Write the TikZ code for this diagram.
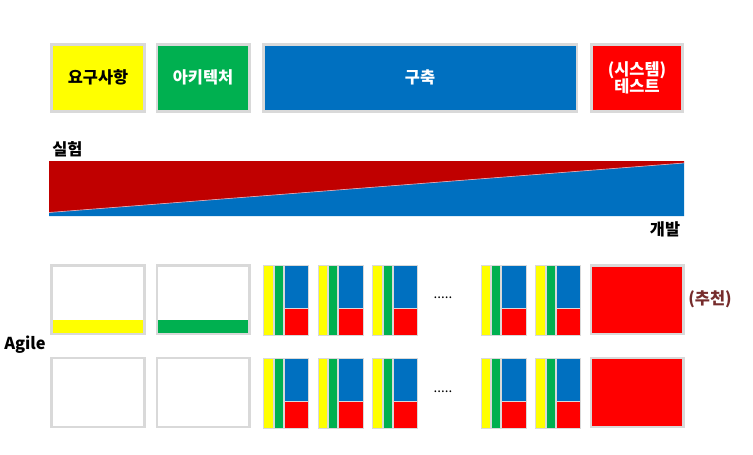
\documentclass[tikz,border=0pt]{standalone}
\usepackage{fontspec}
\setmainfont{Noto Sans CJK KR}
\definecolor{cy}{RGB}{255,255,0}
\definecolor{cg}{RGB}{0,176,80}
\definecolor{cb}{RGB}{0,112,192}
\definecolor{cr}{RGB}{255,0,0}
\definecolor{cdr}{RGB}{192,0,0}
\definecolor{cgr}{RGB}{217,217,217}
\definecolor{crec}{RGB}{118,44,44}
\tikzset{
  bigbox/.style={draw=cgr, line width=2.2pt},
  sb/.style={draw=cgr, line width=0.7pt},
  lbl/.style={font=\bfseries\fontsize{12.3}{13}\selectfont, inner sep=0pt},
}
\newcommand\myblk[3]{%
  \begin{scope}[shift={(#1,#2)}]
    \filldraw[sb,fill=cy] (0,0) rectangle (9.5,70);
    \filldraw[sb,fill=cg] (10.5,0) rectangle (19.5,70);
    \filldraw[sb,fill=cb] (20.5,0) rectangle (45,43.5);
    \filldraw[sb,fill=cr] (20.5,43.5) rectangle (45,70);
    \coordinate (#3) at (22.5,35);
  \end{scope}}
\begin{document}
\begin{tikzpicture}[x=0.75pt,y=-0.75pt]
\useasboundingbox[fill=white] (0,0) rectangle (753,454);
% top row
\filldraw[bigbox,fill=cy] (51.5,44.5) rectangle (144.5,111.5);
\node[lbl] (req) at (98,77) {요구사항};
\filldraw[bigbox,fill=cg] (157,44.5) rectangle (249.5,111.5);
\node[lbl,text=white] (arch) at (203,77) {아키텍처};
\filldraw[bigbox,fill=cb] (263.5,44.5) rectangle (577,111.5);
\node[lbl,text=white] (build) at (420,77) {구축};
\filldraw[bigbox,fill=cr] (591.5,44.5) rectangle (682.5,111.5);
\node[lbl,text=white,align=center,font=\bfseries\fontsize{12.3}{13.2}\selectfont] (test) at (637,78) {(시스템)\\테스트};
% band
\fill[cdr] (49,161) -- (684,161) -- (684,163) -- (49,212.5) -- cycle;
\fill[cb] (49,212.5) -- (684,163) -- (684,216) -- (49,216) -- cycle;
\draw[line width=0.5pt, draw={rgb,255:red,230;green,160;blue,170}] (49,212.5) -- (684,163);
\node[lbl,anchor=south west] (exp) at (52,157) {실험};
\node[lbl] (dev) at (665,229) {개발};
% row 1
\filldraw[bigbox,fill=white] (51.5,265.5) rectangle (144.5,334);
\fill[cy] (52.3,319.5) rectangle (143.7,333.2);
\draw[bigbox] (51.5,265.5) rectangle (144.5,334);
\filldraw[bigbox,fill=white] (157,265.5) rectangle (249.5,334);
\fill[cg] (157.8,319.5) rectangle (248.7,333.2);
\draw[bigbox] (157,265.5) rectangle (249.5,334);
\myblk{263.5}{265}{a1}
\myblk{318}{265}{a2}
\myblk{372.5}{265}{a3}
\myblk{481}{265}{a4}
\myblk{535.5}{265}{a5}
\node[inner sep=0pt,font=\fontsize{10}{10}\selectfont] (dots1) at (443,298) {.....};
\filldraw[bigbox,fill=cr] (591,265.5) rectangle (683.5,334);
\node[lbl,text=crec] (rec) at (710,299) {(추천)};
% Agile label
\node[lbl,anchor=south west,inner sep=0pt] (agile) at (4,354) {Agile};
% row 2
\filldraw[bigbox,fill=white] (51.5,358) rectangle (144.5,427);
\filldraw[bigbox,fill=white] (157,358) rectangle (249.5,427);
\myblk{263.5}{358}{b1}
\myblk{318}{358}{b2}
\myblk{372.5}{358}{b3}
\myblk{481}{358}{b4}
\myblk{535.5}{358}{b5}
\node[inner sep=0pt,font=\fontsize{10}{10}\selectfont] (dots2) at (443,392) {.....};
\filldraw[bigbox,fill=cr] (591,358) rectangle (683.5,427);
\end{tikzpicture}
\end{document}
